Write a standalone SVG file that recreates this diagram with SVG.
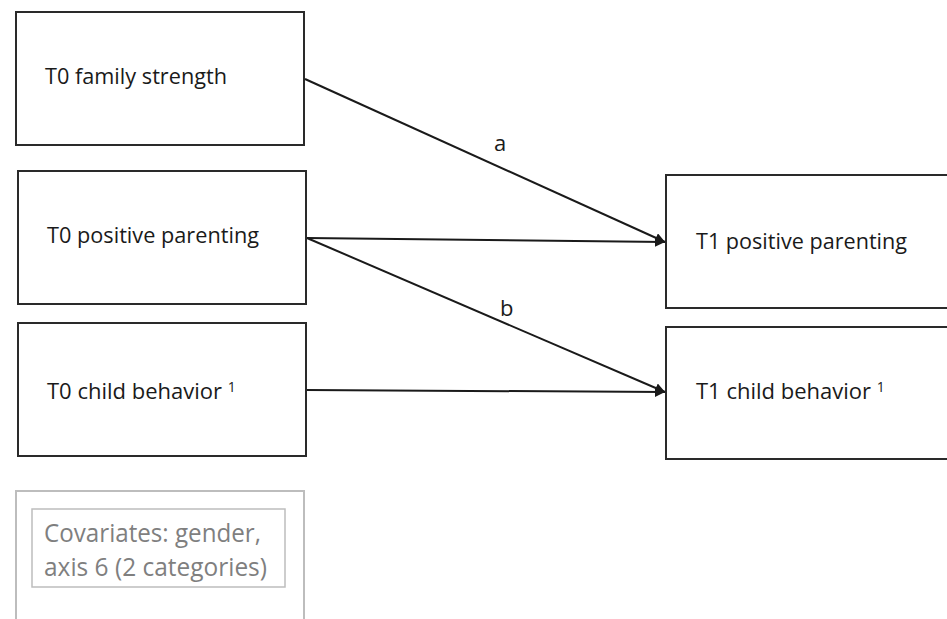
<svg xmlns="http://www.w3.org/2000/svg" width="947" height="619" viewBox="0 0 947 619">
<defs>
<style>
.box{fill:#fff;stroke:#2a2a2a;stroke-width:2}
.cov{fill:#fff;stroke:#bdbdbd;stroke-width:2}
.covin{fill:none;stroke:#bdbdbd;stroke-width:1.5}
.lbl{font-family:"Open Sans","Liberation Sans",sans-serif;font-size:22px;fill:#1a1a1a}
.covt{font-family:"Open Sans","Liberation Sans",sans-serif;font-size:25px;fill:#7f7f7f}
.sup{font-size:14px}
.edge{stroke:#1a1a1a;stroke-width:2;fill:none;marker-end:url(#arr)}
</style>
<marker id="arr" viewBox="0 0 10 10" refX="10" refY="5" markerWidth="5" markerHeight="5" orient="auto" markerUnits="strokeWidth">
<path d="M0,0 L10,5 L0,10 z" fill="#1a1a1a"/>
</marker>
</defs>
<rect width="947" height="619" fill="#fff"/>
<g id="t0-family">
<rect class="box" x="16" y="12" width="288" height="133"/>
<text class="lbl" x="45" y="84" textLength="182" lengthAdjust="spacingAndGlyphs">T0 family strength</text>
</g>
<g id="t0-parenting">
<rect class="box" x="18" y="171" width="288" height="133"/>
<text class="lbl" x="47" y="243" textLength="212" lengthAdjust="spacingAndGlyphs">T0 positive parenting</text>
</g>
<g id="t0-child">
<rect class="box" x="18" y="323" width="288" height="133"/>
<text class="lbl" x="47" y="399">T0 child behavior <tspan class="sup" dy="-7">1</tspan></text>
</g>
<g id="covariates">
<rect class="cov" x="16" y="491" width="288" height="200"/>
<rect class="covin" x="32" y="509" width="253" height="78"/>
<text class="covt" x="44" y="542" textLength="217" lengthAdjust="spacingAndGlyphs">Covariates: gender,</text>
<text class="covt" x="44" y="576" textLength="223" lengthAdjust="spacingAndGlyphs">axis 6 (2 categories)</text>
</g>
<g id="t1-parenting">
<rect class="box" x="666" y="175" width="300" height="133"/>
<text class="lbl" x="696" y="249" textLength="211" lengthAdjust="spacingAndGlyphs">T1 positive parenting</text>
</g>
<g id="t1-child">
<rect class="box" x="666" y="327" width="300" height="132"/>
<text class="lbl" x="696" y="399">T1 child behavior <tspan class="sup" dy="-7">1</tspan></text>
</g>
<g id="connectors">
<line class="edge" x1="305" y1="79" x2="665" y2="242"/>
<line class="edge" x1="307" y1="238" x2="665" y2="242"/>
<line class="edge" x1="307" y1="238" x2="665" y2="392"/>
<line class="edge" x1="307" y1="390" x2="665" y2="392"/>
<text class="lbl" x="494" y="151">a</text>
<text class="lbl" x="500" y="316">b</text>
</g>
</svg>
